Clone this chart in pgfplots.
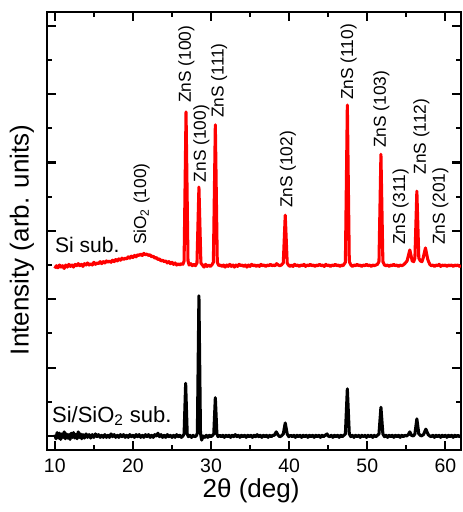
\documentclass[border=0pt]{standalone}
\usepackage{fontspec}
\setmainfont{Liberation Sans}
\usepackage{pgfplots}
\pgfplotsset{compat=1.18}

\begin{document}
\begin{tikzpicture}
\useasboundingbox (-35.25pt,-46.5pt) rectangle (312pt,337.5pt);
\begin{axis}[
    scale only axis,
    width=310.5pt,
    height=328.5pt,
    at={(0,0)}, anchor=south west,
    xmin=9, xmax=62,
    ymin=-0.205, ymax=6.2,
    xtick={10,20,30,40,50,60},
    minor x tick num=1,
    ytick={0,1,2,3,4,5,6},
    minor y tick num=1,
    yticklabels={},
    xtick pos=both, ytick pos=both,
    tick align=inside,
    major tick length=6.5pt,
    minor tick length=3.8pt,
    axis line style={line width=1.8pt},
    every tick/.style={line width=1.6pt, black},
    /pgf/number format/assume math mode=true,
    xticklabel style={font=\fontsize{14.6}{16}\selectfont, yshift=-3pt},
    xlabel={2θ (deg)},
    ylabel={Intensity (arb. units)},
    xlabel style={font=\fontsize{19.5}{22}\selectfont, at={(axis description cs:0.493,-0.0925)}, anchor=center},
    ylabel style={font=\fontsize{19.5}{22}\selectfont, at={(axis description cs:-0.0604,0.48)}, anchor=center},
    clip=true,
]
% Si substrate (red)
\addplot[red, line width=2.3pt, line join=round] coordinates {
(10.0,2.45)(10.2,2.49)(10.4,2.46)(10.6,2.5)(10.8,2.47)(11.0,2.49)(11.2,2.45)(11.4,2.5)(11.6,2.47)(11.8,2.51)
(12.0,2.48)(12.2,2.5)(12.4,2.47)(12.6,2.51)(12.8,2.49)(13.0,2.52)(13.2,2.49)(13.4,2.51)(13.6,2.48)(13.8,2.52)
(14.0,2.5)(14.2,2.53)(14.4,2.5)(14.6,2.52)(14.8,2.5)(15.0,2.54)(15.2,2.51)(15.4,2.53)(15.6,2.52)(15.8,2.55)
(16.0,2.52)(16.2,2.55)(16.4,2.53)(16.6,2.56)(16.8,2.54)(17.0,2.56)(17.2,2.54)(17.4,2.57)(17.6,2.55)(17.8,2.58)
(18.0,2.56)(18.2,2.59)(18.4,2.57)(18.6,2.6)(18.8,2.58)(19.0,2.6)(19.2,2.59)(19.4,2.62)(19.6,2.6)(19.8,2.63)
(20.0,2.61)(20.2,2.64)(20.4,2.62)(20.6,2.65)(20.8,2.64)(21.0,2.66)(21.2,2.64)(21.4,2.67)(21.6,2.65)(21.8,2.66)
(22.0,2.64)(22.2,2.65)(22.4,2.62)(22.6,2.63)(22.8,2.6)(23.0,2.61)(23.2,2.58)(23.4,2.59)(23.6,2.56)(23.8,2.57)
(24.0,2.55)(24.2,2.56)(24.4,2.53)(24.6,2.55)(24.8,2.52)(25.0,2.54)(25.2,2.51)(25.4,2.53)(25.6,2.5)(25.8,2.52)
(26.0,2.5)(26.2,2.52)(26.4,2.51)(26.55,2.56)(26.8,4.74)(27.05,2.56)(27.2,2.5)(27.4,2.52)(27.6,2.49)(27.8,2.51)
(28.0,2.49)(28.2,2.53)(28.45,3.64)(28.7,2.53)(28.9,2.5)(29.1,2.47)(29.3,2.51)(29.5,2.48)(29.7,2.5)(29.9,2.48)
(30.1,2.5)(30.3,2.54)(30.55,4.55)(30.8,2.54)(31.0,2.49)(31.2,2.5)(31.4,2.48)(31.6,2.5)(31.8,2.47)(32.0,2.5)
(32.2,2.48)(32.4,2.51)(32.6,2.48)(32.8,2.5)(33.0,2.47)(33.2,2.5)(33.4,2.48)(33.6,2.51)(33.8,2.49)(34.0,2.5)
(34.2,2.48)(34.4,2.5)(34.6,2.47)(34.8,2.5)(35.0,2.48)(35.2,2.51)(35.4,2.49)(35.6,2.5)(35.8,2.48)(36.0,2.5)
(36.2,2.48)(36.4,2.51)(36.6,2.49)(36.8,2.5)(37.0,2.48)(37.2,2.5)(37.4,2.49)(37.6,2.51)(37.8,2.49)(38.0,2.5)
(38.2,2.49)(38.4,2.52)(38.6,2.5)(38.8,2.49)(39.0,2.5)(39.25,2.53)(39.5,3.23)(39.75,2.53)(39.9,2.5)(40.1,2.48)
(40.3,2.5)(40.5,2.48)(40.7,2.51)(40.9,2.49)(41.1,2.5)(41.3,2.48)(41.5,2.5)(41.7,2.49)(41.9,2.51)(42.1,2.48)
(42.3,2.5)(42.5,2.49)(42.7,2.51)(42.9,2.49)(43.1,2.5)(43.3,2.48)(43.5,2.5)(43.7,2.49)(43.9,2.51)(44.1,2.49)
(44.3,2.5)(44.5,2.48)(44.7,2.51)(44.9,2.49)(45.1,2.5)(45.3,2.48)(45.5,2.5)(45.7,2.49)(45.9,2.51)(46.1,2.49)
(46.3,2.5)(46.5,2.48)(46.7,2.5)(46.9,2.49)(47.2,2.54)(47.45,4.84)(47.7,2.55)(47.9,2.5)(48.1,2.48)(48.3,2.5)
(48.5,2.49)(48.7,2.51)(48.9,2.49)(49.1,2.5)(49.3,2.48)(49.5,2.5)(49.7,2.49)(49.9,2.51)(50.1,2.49)(50.3,2.5)
(50.5,2.48)(50.7,2.5)(50.9,2.49)(51.1,2.5)(51.3,2.51)(51.5,2.55)(51.75,4.12)(52.0,2.55)(52.2,2.5)(52.4,2.49)
(52.6,2.5)(52.8,2.48)(53.0,2.5)(53.2,2.49)(53.4,2.51)(53.6,2.49)(53.8,2.5)(54.0,2.48)(54.2,2.5)(54.4,2.49)
(54.6,2.5)(54.8,2.52)(55.1,2.56)(55.45,2.72)(55.75,2.56)(55.95,2.55)(56.1,2.6)(56.35,3.58)(56.6,2.6)(56.8,2.56)
(57.0,2.55)(57.15,2.6)(57.45,2.75)(57.75,2.58)(58.0,2.51)(58.2,2.49)(58.4,2.5)(58.6,2.48)(58.8,2.5)(59.0,2.49)
(59.2,2.51)(59.4,2.48)(59.6,2.5)(59.8,2.49)(60.0,2.5)(60.2,2.48)(60.4,2.5)(60.6,2.49)(60.8,2.5)(61.0,2.48)
(61.2,2.5)(61.4,2.49)(61.6,2.5)(61.8,2.48)(62.0,2.49)
};
% Si/SiO2 substrate (black)
\addplot[black, line width=2.3pt, line join=round] coordinates {
(10.0,0.02)(10.15,-0.04)(10.3,0.05)(10.45,-0.03)(10.6,0.04)(10.75,-0.05)(10.9,0.03)(11.05,-0.02)(11.2,0.06)(11.35,-0.04)
(11.5,0.03)(11.65,-0.03)(11.8,0.02)(11.95,-0.05)(12.1,0.04)(12.25,-0.02)(12.4,0.05)(12.55,-0.03)(12.7,0.02)(12.85,-0.04)
(13.0,0.06)(13.15,-0.02)(13.3,0.03)(13.45,-0.04)(13.6,0.02)(13.8,-0.03)(14.0,0.03)(14.2,-0.02)(14.4,0.02)(14.6,-0.03)
(14.8,0.02)(15.0,-0.02)(15.2,0.03)(15.4,-0.01)(15.6,0.02)(15.8,-0.02)(16.0,0.01)(16.2,-0.02)(16.4,0.02)(16.6,-0.02)
(16.8,0.01)(17.0,-0.02)(17.2,0.03)(17.4,-0.01)(17.6,0.02)(17.8,-0.02)(18.0,0.01)(18.2,-0.02)(18.4,0.02)(18.6,-0.01)
(18.8,0.02)(19.0,-0.02)(19.2,0.01)(19.4,-0.02)(19.6,0.02)(19.8,-0.01)(20.0,0.01)(20.2,-0.02)(20.4,0.02)(20.6,-0.01)
(20.8,0.02)(21.0,-0.02)(21.2,0.01)(21.4,-0.02)(21.6,0.02)(21.8,-0.01)(22.0,0.02)(22.2,-0.02)(22.4,0.01)(22.6,-0.02)
(22.8,0.02)(23.0,0.0)(23.2,0.04)(23.4,-0.01)(23.6,0.02)(23.8,-0.02)(24.0,0.01)(24.2,-0.02)(24.4,0.02)(24.6,-0.01)
(24.8,0.01)(25.0,-0.02)(25.2,0.01)(25.4,-0.02)(25.6,0.02)(25.8,-0.01)(26.0,0.01)(26.2,-0.02)(26.4,0.0)(26.55,0.03)
(26.75,0.77)(26.95,0.03)(27.1,-0.01)(27.3,0.01)(27.5,-0.02)(27.7,0.01)(27.9,-0.01)(28.1,0.0)(28.25,0.04)(28.45,2.05)
(28.65,0.04)(28.8,-0.06)(29.0,0.0)(29.2,-0.02)(29.4,0.01)(29.6,-0.02)(29.8,0.01)(30.0,-0.01)(30.2,0.01)(30.35,0.03)
(30.55,0.56)(30.75,0.03)(30.9,-0.01)(31.1,0.01)(31.3,-0.01)(31.5,0.01)(31.7,-0.02)(31.9,0.01)(32.1,-0.01)(32.3,0.01)
(32.5,-0.02)(32.7,0.01)(32.9,-0.01)(33.1,0.02)(33.3,-0.01)(33.5,0.01)(33.7,-0.02)(33.9,0.01)(34.1,-0.01)(34.3,0.01)
(34.5,-0.02)(34.7,0.01)(34.9,-0.01)(35.1,0.01)(35.3,-0.02)(35.5,0.01)(35.7,-0.01)(35.9,0.02)(36.1,-0.01)(36.3,0.01)
(36.5,-0.02)(36.7,0.01)(36.9,-0.01)(37.1,0.01)(37.3,-0.02)(37.5,0.01)(37.7,-0.01)(37.9,0.01)(38.1,0.01)(38.35,0.06)
(38.6,0.01)(38.8,-0.01)(39.0,0.0)(39.25,0.03)(39.5,0.19)(39.75,0.03)(39.95,-0.01)(40.2,0.01)(40.4,-0.01)(40.6,0.01)
(40.8,-0.02)(41.0,0.01)(41.2,-0.01)(41.4,0.01)(41.6,-0.02)(41.8,0.01)(42.0,-0.01)(42.2,0.01)(42.4,-0.02)(42.6,0.01)
(42.8,-0.01)(43.0,0.01)(43.2,-0.02)(43.4,0.01)(43.6,-0.01)(43.8,0.01)(44.0,-0.02)(44.2,0.01)(44.4,-0.01)(44.6,0.01)
(44.85,0.03)(45.0,0.0)(45.2,-0.01)(45.4,0.01)(45.6,-0.02)(45.8,0.01)(46.0,-0.01)(46.2,0.01)(46.4,-0.02)(46.6,0.01)
(46.8,-0.01)(47.0,0.01)(47.2,0.03)(47.45,0.69)(47.7,0.03)(47.9,-0.01)(48.1,0.01)(48.3,-0.02)(48.5,0.01)(48.7,-0.01)
(48.9,0.01)(49.1,-0.02)(49.3,0.01)(49.5,-0.01)(49.7,0.01)(49.9,-0.02)(50.1,0.01)(50.3,-0.01)(50.5,0.01)(50.7,-0.02)
(50.9,0.01)(51.1,-0.01)(51.3,0.01)(51.5,0.03)(51.75,0.42)(52.0,0.03)(52.2,-0.01)(52.4,0.01)(52.6,-0.02)(52.8,0.01)
(53.0,-0.01)(53.2,0.01)(53.4,-0.02)(53.6,0.01)(53.8,-0.01)(54.0,0.01)(54.2,-0.02)(54.4,0.01)(54.6,-0.01)(54.8,0.01)
(55.05,0.0)(55.25,0.02)(55.45,0.06)(55.65,0.01)(55.9,0.0)(56.1,0.03)(56.35,0.25)(56.6,0.03)(56.9,0.0)(57.2,0.02)
(57.5,0.10)(57.8,0.02)(58.0,0.0)(58.2,-0.01)(58.4,0.01)(58.6,-0.02)(58.8,0.01)(59.0,-0.01)(59.2,0.01)(59.4,-0.02)
(59.6,0.01)(59.8,-0.01)(60.0,0.01)(60.2,-0.02)(60.4,0.01)(60.6,-0.01)(60.8,0.01)(61.0,-0.02)(61.2,0.01)(61.4,-0.01)
(61.6,0.01)(61.8,-0.01)(62.0,0.0)
};
% peak labels
\begin{scope}[every node/.style={rotate=90, anchor=west, inner sep=0pt, font=\fontsize{13}{15}\selectfont}]
\node at (axis cs:26.85,4.87) {ZnS (100)};
\node at (axis cs:28.75,3.71) {ZnS (100)};
\node at (axis cs:31.05,4.65) {ZnS (111)};
\node at (axis cs:21.1,2.79) {SiO\textsubscript{2} (100)};
\node at (axis cs:39.85,3.33) {ZnS (102)};
\node at (axis cs:47.6,4.91) {ZnS (110)};
\node at (axis cs:51.8,4.21) {ZnS (103)};
\node at (axis cs:54.26,2.79) {ZnS (311)};
\node at (axis cs:56.94,3.82) {ZnS (112)};
\node at (axis cs:59.36,2.79) {ZnS (201)};
\end{scope}
\node[anchor=base west, inner sep=0pt, font=\fontsize{15.8}{18}\selectfont] at (axis cs:10.0,2.68) {Si sub.};
\node[anchor=base west, inner sep=0pt, font=\fontsize{16.5}{18}\selectfont] at (axis cs:9.62,0.2) {Si/SiO\textsubscript{2} sub.};
\end{axis}
\end{tikzpicture}
\end{document}
